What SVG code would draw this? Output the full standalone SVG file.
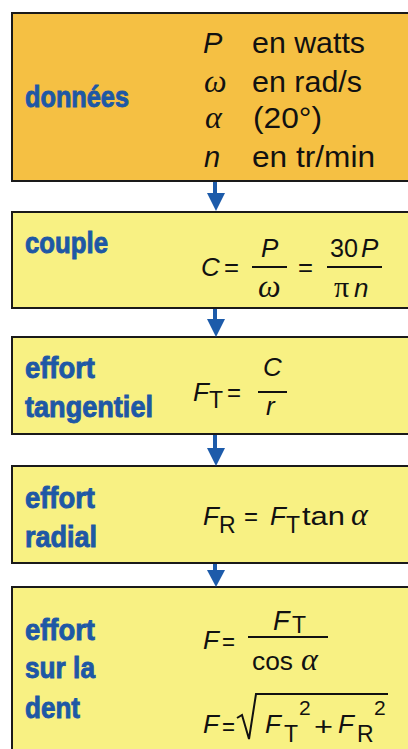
<svg xmlns="http://www.w3.org/2000/svg" width="408" height="749" viewBox="0 0 408 749">
<style>
.bg{fill:#ffffff}
.b1{fill:#F5C043;stroke:#1a1a1a;stroke-width:2}
.b2{fill:#F8F183;stroke:#1a1a1a;stroke-width:2}
.lab{font-family:"Liberation Sans",Arial,sans-serif;font-weight:bold;font-size:29px;fill:#1E58A5;stroke:#1E58A5;stroke-width:0.9}
.t{font-family:"Liberation Sans",Arial,sans-serif;font-size:26px;fill:#111}
.tb{font-family:"Liberation Sans",Arial,sans-serif;font-size:29px;fill:#111}
.i{font-style:italic}
.g{font-family:"Liberation Serif","Times New Roman",serif;font-style:italic;font-size:32px;fill:#111}
.pi{font-family:"Liberation Serif","Times New Roman",serif;font-size:30px;fill:#111}
.sub{font-family:"Liberation Sans",Arial,sans-serif;font-size:23px;fill:#111}
.sup{font-family:"Liberation Sans",Arial,sans-serif;font-size:21px;fill:#111}
.fl{stroke:#111;stroke-width:2;fill:none}
.sh{stroke:#1D5BAA;stroke-width:4}
.ah{fill:#1D5BAA}
</style>
<rect class="bg" x="0" y="0" width="408" height="749"/>

<g id="donnees">
<rect class="b1" x="12" y="13" width="410" height="168"/>
<text class="lab" x="25" y="107" textLength="104" lengthAdjust="spacingAndGlyphs">données</text>
<text class="tb i" x="203" y="53">P</text>
<text class="tb" x="252" y="53" textLength="113" lengthAdjust="spacingAndGlyphs">en watts</text>
<text class="g" x="204" y="92">ω</text>
<text class="tb" x="252" y="92" textLength="110" lengthAdjust="spacingAndGlyphs">en rad/s</text>
<text class="g" x="205" y="128">α</text>
<text class="tb" x="253" y="128" textLength="69" lengthAdjust="spacingAndGlyphs">(20°)</text>
<text class="tb i" x="204" y="167">n</text>
<text class="tb" x="252" y="167" textLength="123" lengthAdjust="spacingAndGlyphs">en tr/min</text>
</g>

<g id="couple">
<rect class="b2" x="12" y="212" width="410" height="96"/>
<text class="lab" x="25" y="253" textLength="83" lengthAdjust="spacingAndGlyphs">couple</text>
<text class="t i" x="201" y="276">C</text>
<text class="t" x="224" y="276" textLength="15" lengthAdjust="spacingAndGlyphs">=</text>
<line class="fl" x1="252" y1="267" x2="287" y2="267"/>
<text class="t i" x="261" y="257">P</text>
<text class="g" x="258" y="297">ω</text>
<text class="t" x="298" y="276" textLength="15" lengthAdjust="spacingAndGlyphs">=</text>
<line class="fl" x1="327" y1="267" x2="382" y2="267"/>
<text class="t" x="330" y="257" textLength="28" lengthAdjust="spacingAndGlyphs">30</text>
<text class="t i" x="361" y="257">P</text>
<text class="pi" x="334" y="297">π</text>
<text class="t i" x="354" y="297">n</text>
</g>

<g id="effort-tangentiel">
<rect class="b2" x="12" y="337" width="410" height="97"/>
<text class="lab" x="25" y="378" textLength="70" lengthAdjust="spacingAndGlyphs">effort</text>
<text class="lab" x="25" y="417" textLength="128" lengthAdjust="spacingAndGlyphs">tangentiel</text>
<text class="t i" x="193" y="401">F</text>
<text class="sub" x="209" y="408">T</text>
<text class="t" x="227" y="401" textLength="14" lengthAdjust="spacingAndGlyphs">=</text>
<line class="fl" x1="258" y1="392" x2="287" y2="392"/>
<text class="t i" x="263" y="376">C</text>
<text class="t i" x="266" y="415">r</text>
</g>

<g id="effort-radial">
<rect class="b2" x="12" y="466" width="410" height="97"/>
<text class="lab" x="25" y="508" textLength="70" lengthAdjust="spacingAndGlyphs">effort</text>
<text class="lab" x="25" y="547" textLength="72" lengthAdjust="spacingAndGlyphs">radial</text>
<text class="t i" x="203" y="525">F</text>
<text class="sub" x="219" y="533">R</text>
<text class="t" x="244" y="525" textLength="14" lengthAdjust="spacingAndGlyphs">=</text>
<text class="t i" x="270" y="525">F</text>
<text class="sub" x="286" y="533">T</text>
<text class="t" x="302" y="525" textLength="43" lengthAdjust="spacingAndGlyphs">tan</text>
<text class="g" x="351" y="525">α</text>
</g>

<g id="effort-dent">
<rect class="b2" x="12" y="587" width="410" height="200"/>
<text class="lab" x="25" y="640" textLength="70" lengthAdjust="spacingAndGlyphs">effort</text>
<text class="lab" x="25" y="678" textLength="70" lengthAdjust="spacingAndGlyphs">sur la</text>
<text class="lab" x="25" y="718" textLength="55" lengthAdjust="spacingAndGlyphs">dent</text>
<text class="t i" x="203" y="649">F</text>
<text class="t" x="222" y="650" textLength="13" lengthAdjust="spacingAndGlyphs">=</text>
<line class="fl" x1="248" y1="637" x2="328" y2="637"/>
<text class="t i" x="273" y="630" style="font-size:27px">F</text>
<text class="sub" x="292" y="633">T</text>
<text class="t" x="252" y="670" textLength="41" lengthAdjust="spacingAndGlyphs">cos</text>
<text class="g" x="301" y="670">α</text>
<text class="t i" x="203" y="733">F</text>
<text class="t" x="222" y="735" textLength="13" lengthAdjust="spacingAndGlyphs">=</text>
<path class="fl" d="M237,718 L242,715 L249,739 L256,694 L388,694"/>
<text class="t i" x="265" y="733">F</text>
<text class="sub" x="284" y="742">T</text>
<text class="sup" x="299" y="715">2</text>
<text class="t" x="314" y="735" textLength="19" lengthAdjust="spacingAndGlyphs">+</text>
<text class="t i" x="338" y="733">F</text>
<text class="sub" x="357" y="742">R</text>
<text class="sup" x="374" y="715">2</text>
</g>

<g id="connectors">
<line class="sh" x1="215" y1="182" x2="215" y2="195"/>
<polygon class="ah" points="207,193 225,193 216,211"/>
<line class="sh" x1="215" y1="309" x2="215" y2="320"/>
<polygon class="ah" points="207,319 225,319 216,337"/>
<line class="sh" x1="215" y1="435" x2="215" y2="449"/>
<polygon class="ah" points="207,448 225,448 216,466"/>
<line class="sh" x1="215" y1="564" x2="215" y2="571"/>
<polygon class="ah" points="207,570 225,570 216,587"/>
</g>
</svg>
